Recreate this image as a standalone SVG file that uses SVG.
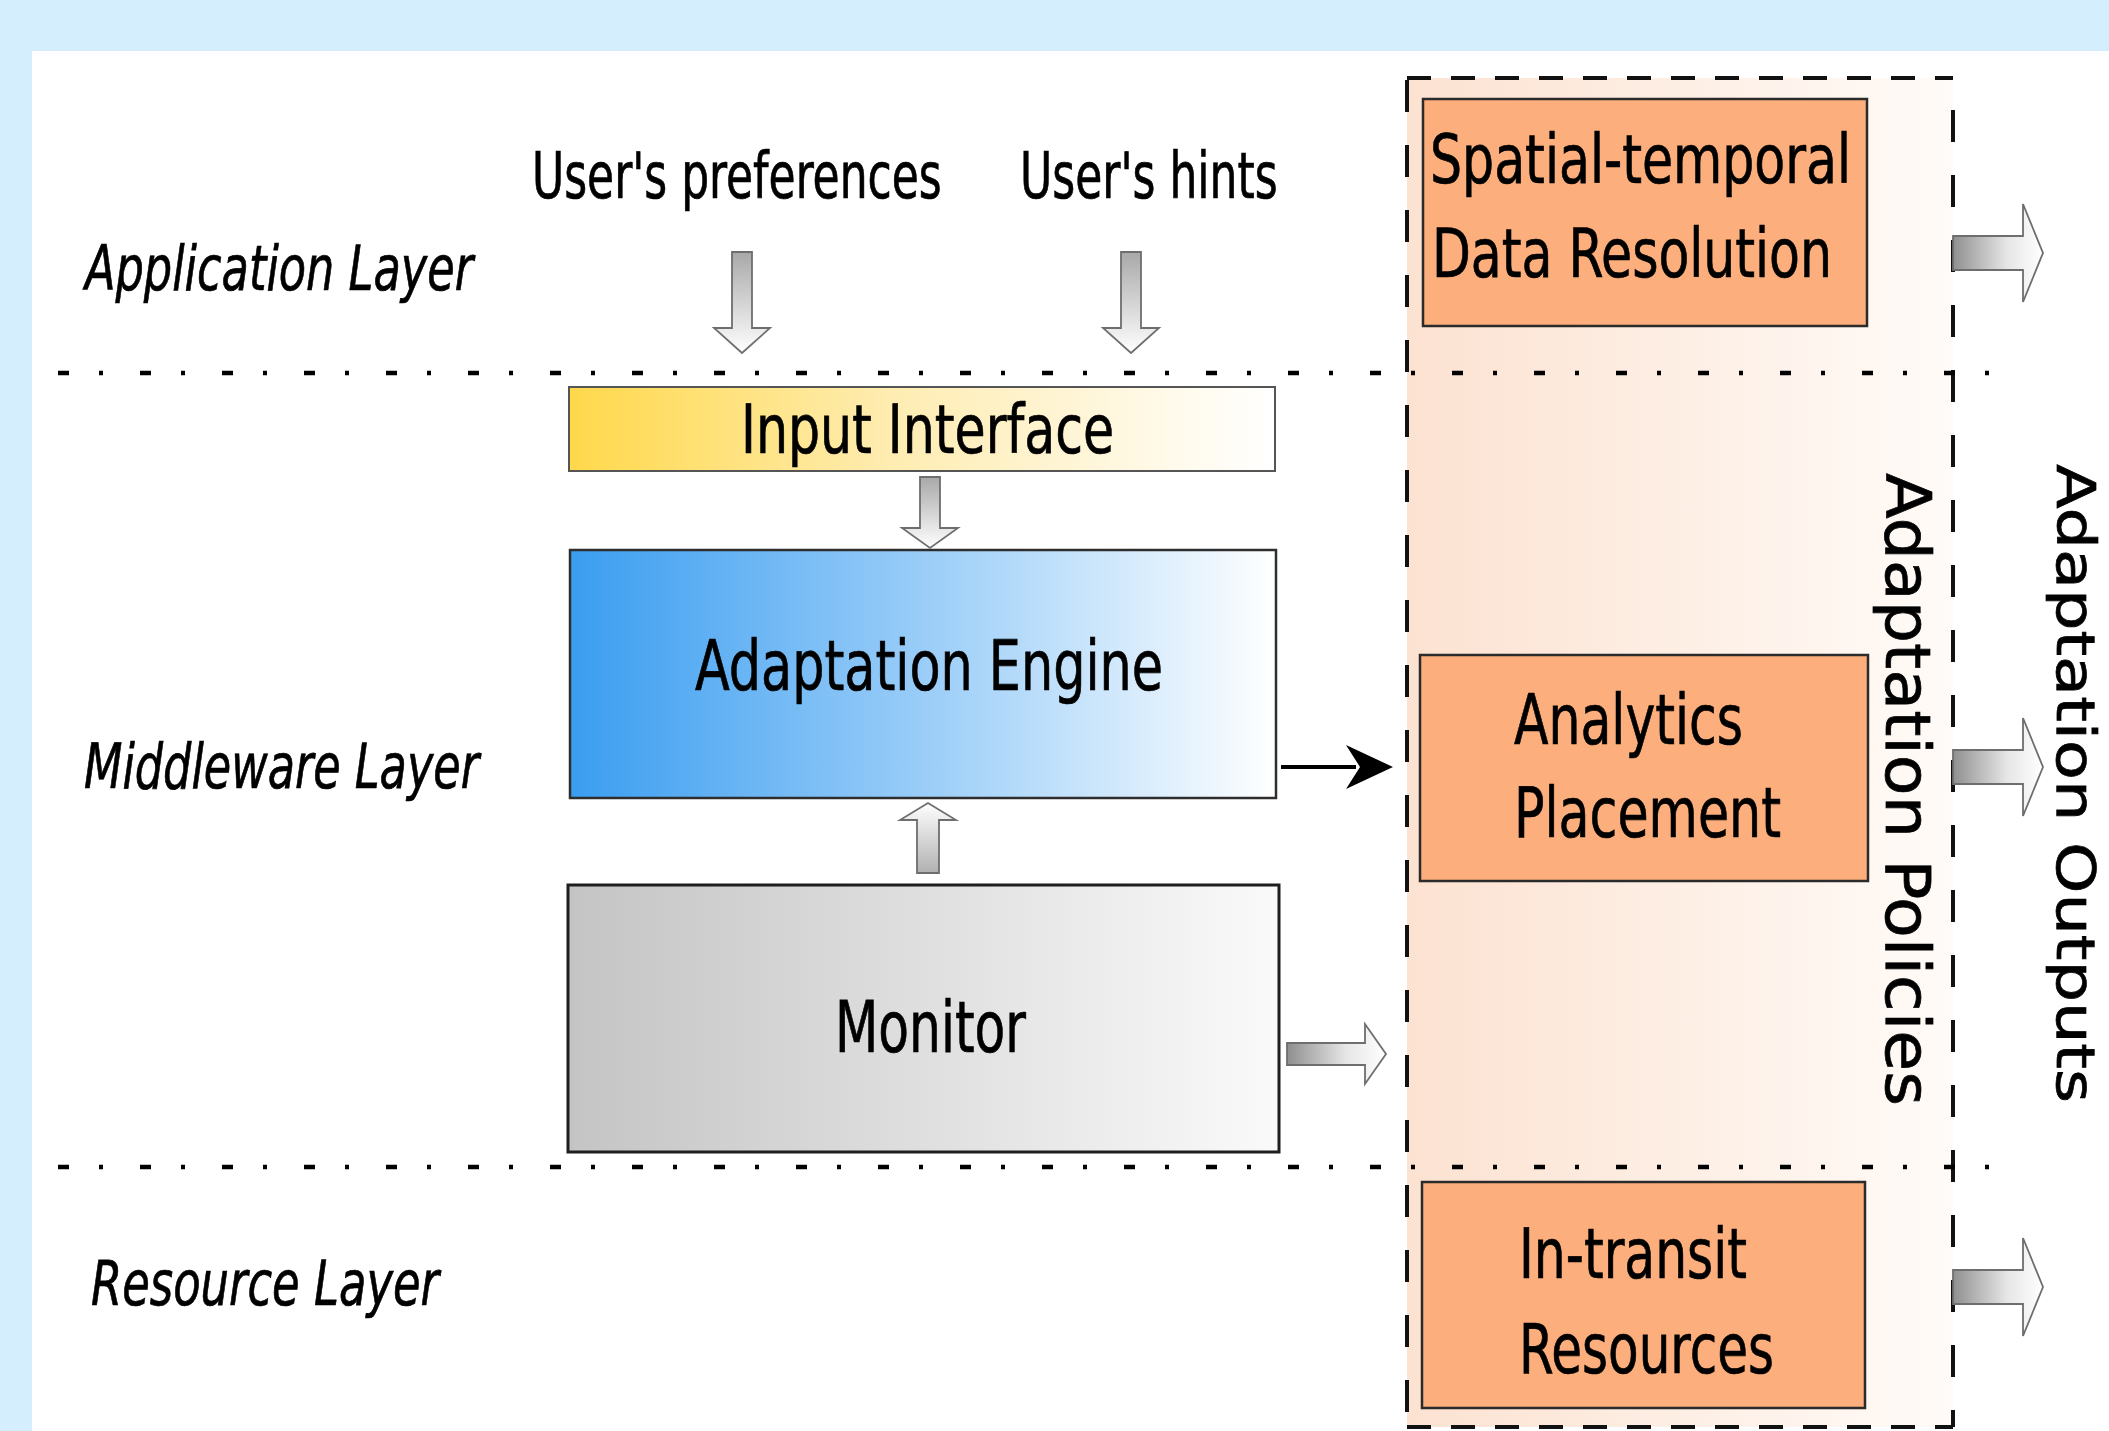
<svg xmlns="http://www.w3.org/2000/svg" width="2109" height="1431" viewBox="0 0 2109 1431">
  <defs>
    <linearGradient id="gYellow" x1="0" y1="0" x2="1" y2="0">
      <stop offset="0" stop-color="#FFD84A"/>
      <stop offset="0.45" stop-color="#FEECB0"/>
      <stop offset="1" stop-color="#FFFFFF"/>
    </linearGradient>
    <linearGradient id="gBlue" x1="0" y1="0" x2="1" y2="0">
      <stop offset="0" stop-color="#3A9DF0"/>
      <stop offset="0.5" stop-color="#9ACDF8"/>
      <stop offset="1" stop-color="#FFFFFF"/>
    </linearGradient>
    <linearGradient id="gGray" x1="0" y1="0" x2="1" y2="0">
      <stop offset="0" stop-color="#C4C4C4"/>
      <stop offset="1" stop-color="#FAFAFA"/>
    </linearGradient>
    <linearGradient id="gPeach" x1="0" y1="0" x2="1" y2="0">
      <stop offset="0" stop-color="#FCE2D1"/>
      <stop offset="1" stop-color="#FFFBF8"/>
    </linearGradient>
    <linearGradient id="gArrowH" x1="0" y1="0" x2="1" y2="0">
      <stop offset="0" stop-color="#8F8F8F"/>
      <stop offset="0.6" stop-color="#E6E6E6"/>
      <stop offset="1" stop-color="#FFFFFF"/>
    </linearGradient>
    <linearGradient id="gArrowDown" x1="0" y1="0" x2="0" y2="1">
      <stop offset="0" stop-color="#A8A8A8"/>
      <stop offset="1" stop-color="#FFFFFF"/>
    </linearGradient>
    <linearGradient id="gArrowUp" x1="0" y1="1" x2="0" y2="0">
      <stop offset="0" stop-color="#B0B0B0"/>
      <stop offset="1" stop-color="#FFFFFF"/>
    </linearGradient>
    <style>
      .t { font-family: "DejaVu Sans Condensed", "DejaVu Sans", sans-serif; fill: #000; stroke: #000; stroke-width: 0.7; }
      .layer { font-style: italic; font-size: 62px; }
      .user { font-size: 64px; }
      .box { font-size: 70px; }
      .vert { font-family: "DejaVu Sans", sans-serif; fill: #000; stroke: #000; stroke-width: 0.7; }
      .orange { fill: #FCAF7C; stroke: #2B2B2B; stroke-width: 2.5; }
      .sep { stroke: #000; stroke-width: 4.5; stroke-dasharray: 11 30 4 37; fill: none; }
      .cdashH { stroke: #111; stroke-width: 4; stroke-dasharray: 24 20; fill: none; }
      .cdashV { stroke: #111; stroke-width: 4; stroke-dasharray: 32 33; fill: none; }
      .barrow { stroke: #6E6E6E; stroke-width: 1.8; stroke-linejoin: miter; }
    </style>
  </defs>

  <!-- background -->
  <rect x="0" y="0" width="2109" height="1431" fill="#D4EEFD"/>
  <rect x="32" y="51" width="2077" height="1380" fill="#FFFFFF"/>

  <!-- adaptation policies container -->
  <g id="policies-container">
    <rect x="1407" y="78" width="546" height="1349" fill="url(#gPeach)"/>
    <line class="cdashH" x1="1407" y1="78" x2="1953" y2="78"/>
    <line class="cdashH" x1="1407" y1="1427" x2="1953" y2="1427"/>
    <line class="cdashV" x1="1407" y1="80" x2="1407" y2="1427"/>
    <line class="cdashV" x1="1953" y1="110" x2="1953" y2="1427"/>
  </g>

  <!-- layer separators -->
  <g id="separators">
    <line class="sep" x1="58" y1="373" x2="2010" y2="373"/>
    <line class="sep" x1="58" y1="1167" x2="2010" y2="1167"/>
  </g>

  <!-- layer labels -->
  <g id="layer-labels">
    <text class="t layer" x="85" y="290" textLength="388" lengthAdjust="spacingAndGlyphs">Application Layer</text>
    <text class="t layer" x="84" y="788" textLength="395" lengthAdjust="spacingAndGlyphs">Middleware Layer</text>
    <text class="t layer" x="91" y="1305" textLength="348" lengthAdjust="spacingAndGlyphs">Resource Layer</text>
  </g>

  <g id="user-preferences">
    <text class="t user" transform="translate(532,198) scale(0.72,1)" x="0" y="0" textLength="569" lengthAdjust="spacingAndGlyphs">User's preferences</text>
  </g>
  <g id="user-hints">
    <text class="t user" transform="translate(1020,198) scale(0.72,1)" x="0" y="0" textLength="358" lengthAdjust="spacingAndGlyphs">User's hints</text>
  </g>

  <g id="input-interface">
    <rect x="569" y="387" width="706" height="84" fill="url(#gYellow)" stroke="#555" stroke-width="2"/>
    <text class="t box" x="741" y="453" style="font-size:68px" textLength="373" lengthAdjust="spacingAndGlyphs">Input Interface</text>
  </g>

  <g id="adaptation-engine">
    <rect x="570" y="550" width="706" height="248" fill="url(#gBlue)" stroke="#2E2E2E" stroke-width="2.5"/>
    <text class="t box" x="695" y="690" textLength="468" lengthAdjust="spacingAndGlyphs">Adaptation Engine</text>
  </g>

  <g id="monitor">
    <rect x="568" y="885" width="711" height="267" fill="url(#gGray)" stroke="#1E1E1E" stroke-width="3"/>
    <text class="t box" x="835" y="1052" style="font-size:72px" textLength="191" lengthAdjust="spacingAndGlyphs">Monitor</text>
  </g>

  <g id="spatial-temporal">
    <rect class="orange" x="1423" y="99" width="444" height="227"/>
    <text class="t box" x="1430" y="183" style="font-size:68px" textLength="421" lengthAdjust="spacingAndGlyphs">Spatial-temporal</text>
    <text class="t box" x="1432" y="277" style="font-size:68px" textLength="400" lengthAdjust="spacingAndGlyphs">Data Resolution</text>
  </g>

  <g id="analytics-placement">
    <rect class="orange" x="1420" y="655" width="448" height="226"/>
    <text class="t box" x="1514" y="744" textLength="229" lengthAdjust="spacingAndGlyphs">Analytics</text>
    <text class="t box" x="1514" y="837" textLength="267" lengthAdjust="spacingAndGlyphs">Placement</text>
  </g>

  <g id="in-transit-resources">
    <rect class="orange" x="1422" y="1182" width="443" height="226"/>
    <text class="t box" x="1519" y="1278" textLength="228" lengthAdjust="spacingAndGlyphs">In-transit</text>
    <text class="t box" x="1519" y="1373" textLength="255" lengthAdjust="spacingAndGlyphs">Resources</text>
  </g>

  <g id="adaptation-policies-label">
    <text class="vert" style="font-size:62px" transform="translate(1886,473) rotate(90)" x="0" y="0" textLength="633" lengthAdjust="spacingAndGlyphs">Adaptation Policies</text>
  </g>
  <g id="adaptation-outputs-label">
    <text class="vert" style="font-size:54px" transform="translate(2057,464) rotate(90)" x="0" y="0" textLength="639" lengthAdjust="spacingAndGlyphs">Adaptation Outputs</text>
  </g>

  <!-- connectors -->
  <g id="connectors">
    <!-- user's preferences -> input interface -->
    <polygon class="barrow" fill="url(#gArrowDown)" points="732,252 752,252 752,328 770,328 742,353 714,328 732,328"/>
    <!-- user's hints -> input interface -->
    <polygon class="barrow" fill="url(#gArrowDown)" points="1121,252 1141,252 1141,328 1159,328 1131,353 1103,328 1121,328"/>
    <!-- input interface -> adaptation engine -->
    <polygon class="barrow" fill="url(#gArrowDown)" points="920,477 940,477 940,528 958,528 930,548 902,528 920,528"/>
    <!-- monitor -> adaptation engine -->
    <polygon class="barrow" fill="url(#gArrowUp)" points="917,873 939,873 939,820 956,820 928,803 900,820 917,820"/>
    <!-- adaptation engine -> policies -->
    <line x1="1281" y1="767" x2="1356" y2="767" stroke="#000" stroke-width="4"/>
    <polygon fill="#000" points="1393,767 1346,745 1360,767 1346,789"/>
    <!-- monitor -> policies -->
    <polygon class="barrow" fill="url(#gArrowH)" points="1287,1043 1365,1043 1365,1024 1386,1054 1365,1084 1365,1065 1287,1065"/>
    <!-- outputs -->
    <polygon class="barrow" fill="url(#gArrowH)" points="1953,236 2023,236 2023,204 2043,253 2023,302 2023,270 1953,270"/>
    <polygon class="barrow" fill="url(#gArrowH)" points="1953,750 2023,750 2023,718 2043,767 2023,816 2023,784 1953,784"/>
    <polygon class="barrow" fill="url(#gArrowH)" points="1953,1270 2023,1270 2023,1238 2043,1287 2023,1336 2023,1304 1953,1304"/>
  </g>
</svg>
